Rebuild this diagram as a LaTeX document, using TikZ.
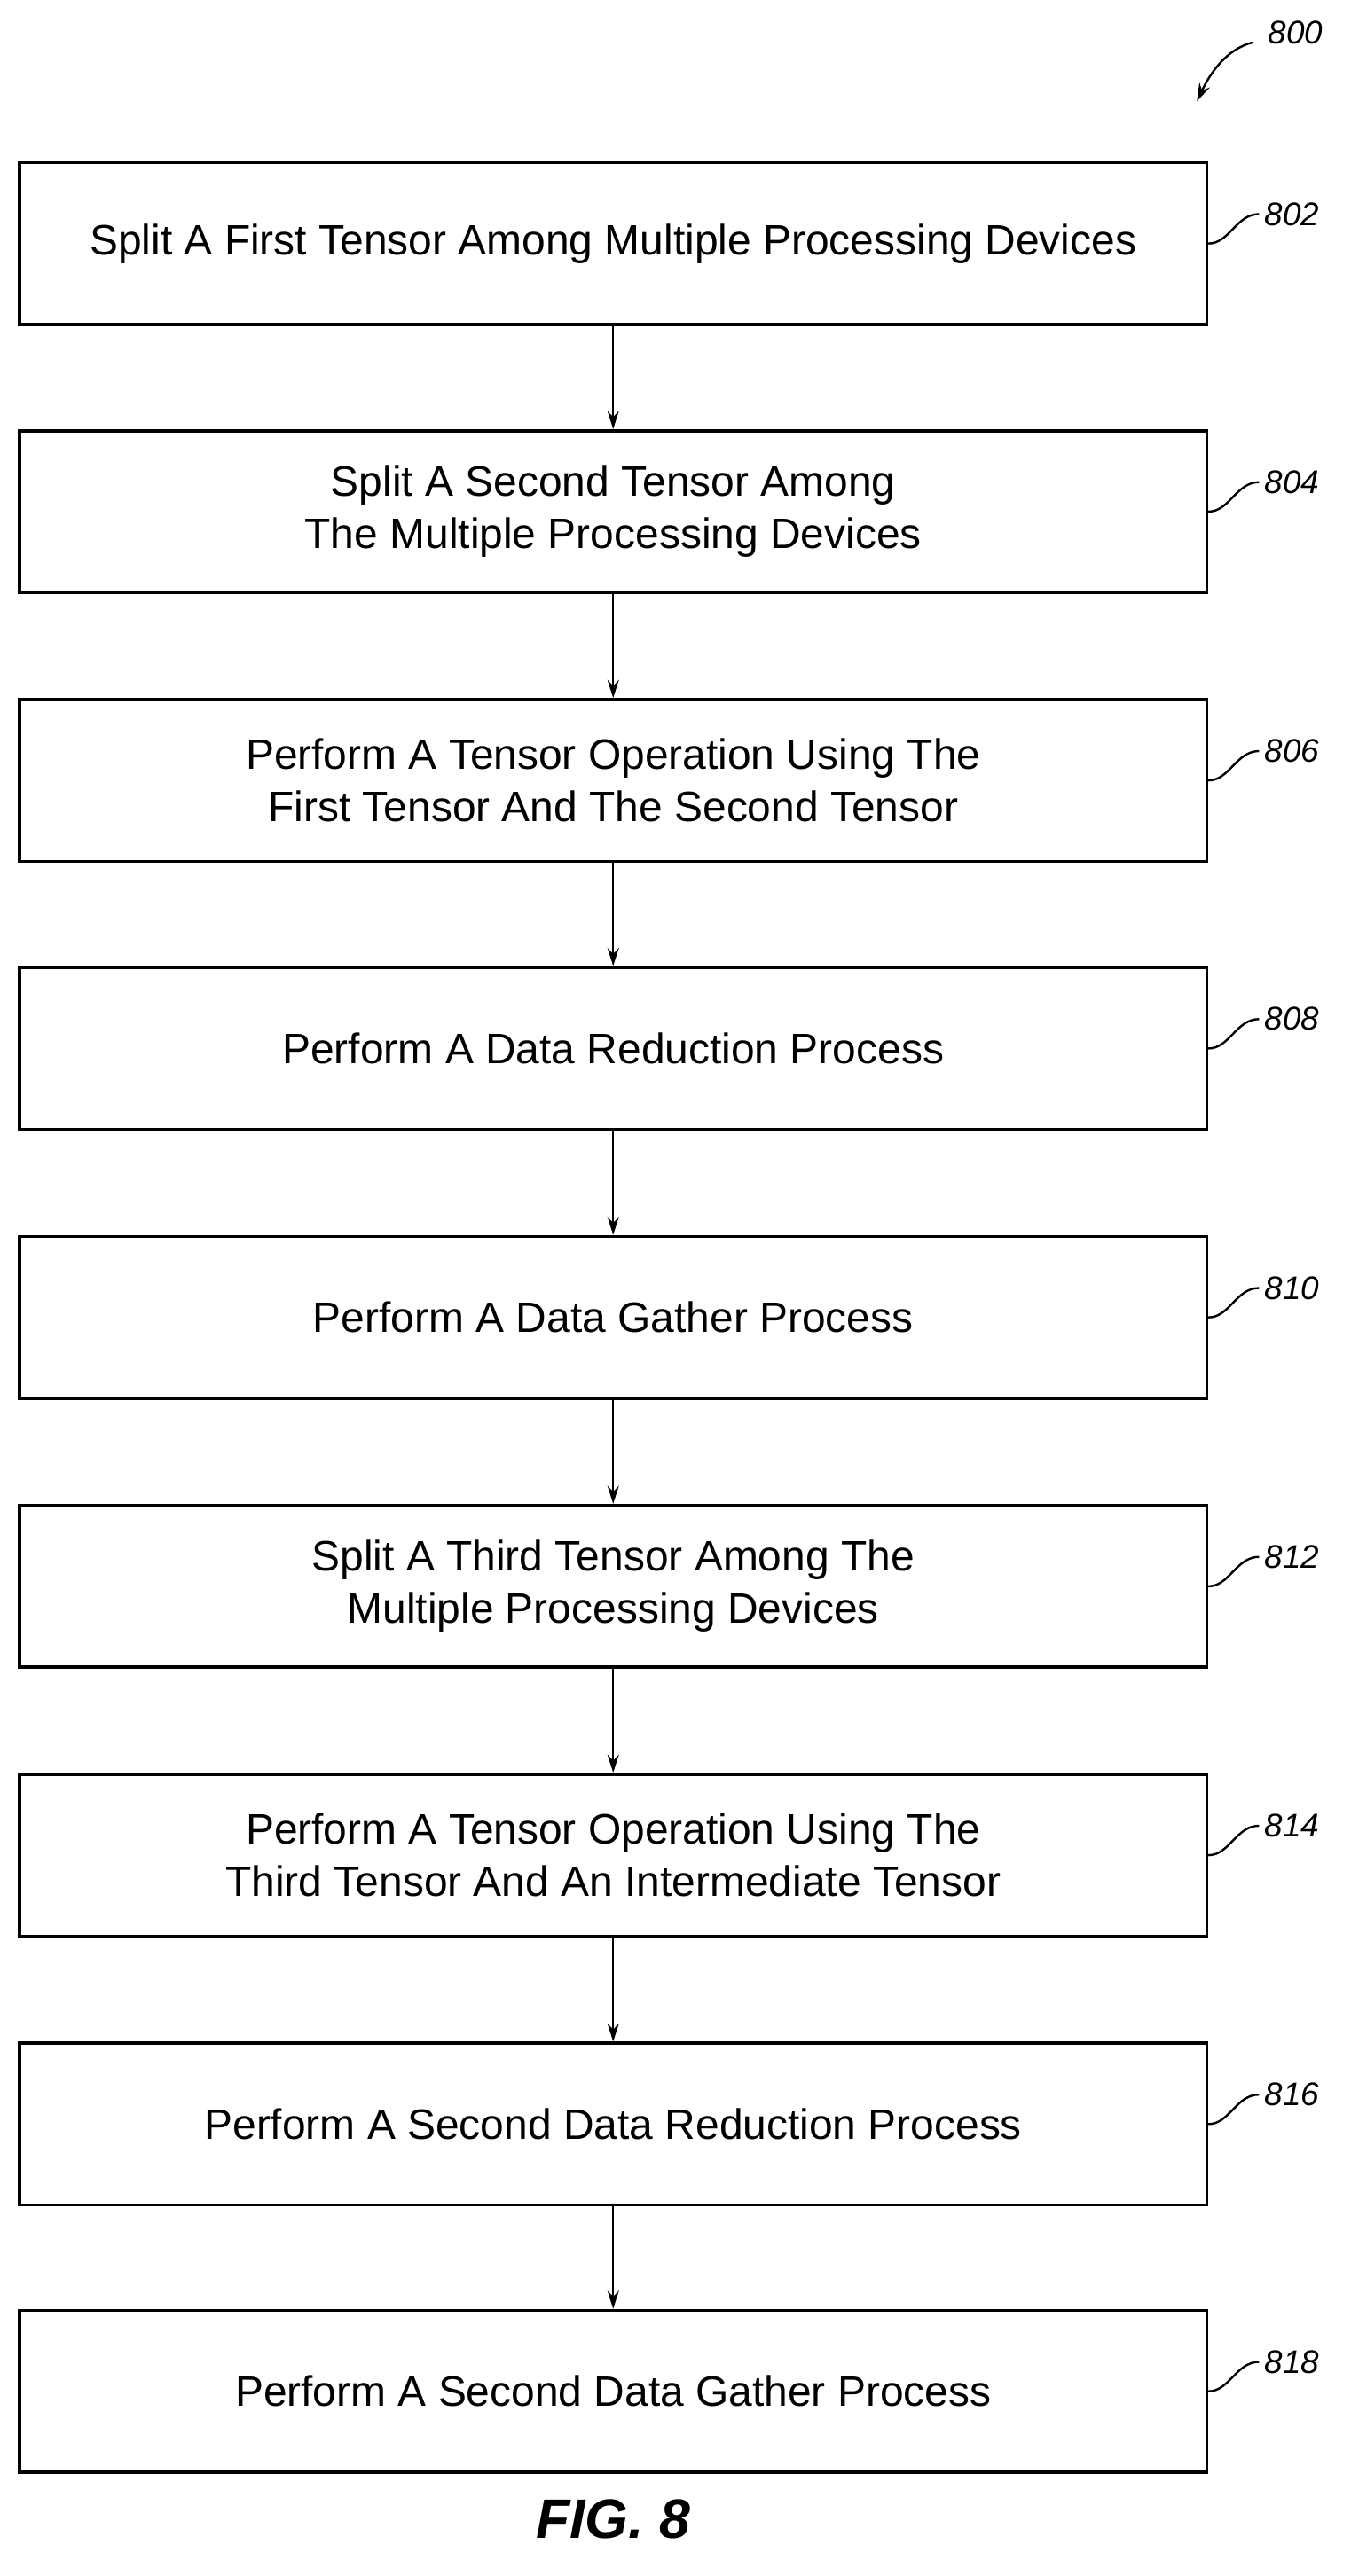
\documentclass[tikz,border=0pt]{standalone}
\usepackage{fontspec}
\setmainfont{Liberation Sans}
\usetikzlibrary{arrows.meta}
\begin{document}
\begin{tikzpicture}[x=1pt,y=1pt,
  box/.style={draw,line width=2pt,minimum width=726pt,minimum height=99pt,align=center,font=\fontsize{26}{32}\selectfont,inner sep=0pt},
  arr/.style={-{Stealth[length=11pt,width=7pt]},line width=1.3pt},
  lab/.style={font=\fontsize{20}{24}\selectfont\itshape,anchor=west},
  lead/.style={line width=1.3pt}]
\useasboundingbox (0,0) rectangle (826,-1576);
\def\ys{{149,313,477.5,641.5,806,970.5,1135,1299.5,1463}}
\foreach \i/\t/\n in {
 1/{Split A First Tensor Among Multiple Processing Devices}/802,
 2/{Split A Second Tensor Among\\The Multiple Processing Devices}/804,
 3/{Perform A Tensor Operation Using The\\First Tensor And The Second Tensor}/806,
 4/{Perform A Data Reduction Process}/808,
 5/{Perform A Data Gather Process}/810,
 6/{Split A Third Tensor Among The\\Multiple Processing Devices}/812,
 7/{Perform A Tensor Operation Using The\\Third Tensor And An Intermediate Tensor}/814,
 8/{Perform A Second Data Reduction Process}/816,
 9/{Perform A Second Data Gather Process}/818}{
  \pgfmathsetmacro\yy{\ys[\i-1]}
  \node[box] (b\i) at (375,-\yy) {\t};
  \coordinate (c\i) at (770,-\yy+18);
  \node[lab] (l\i) at (770,-\yy+18) {\n};
  \draw[lead] (b\i.east) .. controls (752,-\yy) and (756,-\yy+18) .. (c\i);
}
\foreach \i [evaluate=\i as \j using int(\i+1)] in {1,...,8}
  \draw[arr] (b\i.south) -- (b\j.north);
\node[lab] (l800) at (772,-20) {800};
\coordinate (a0) at (766,-26);
\coordinate (a1) at (732,-62);
\draw[arr] (a0) .. controls (750,-30) and (740,-45) .. (a1);
\node[font=\fontsize{34}{40}\selectfont\bfseries\itshape] (fig) at (375,-1541) {FIG. 8};
\end{tikzpicture}
\end{document}
